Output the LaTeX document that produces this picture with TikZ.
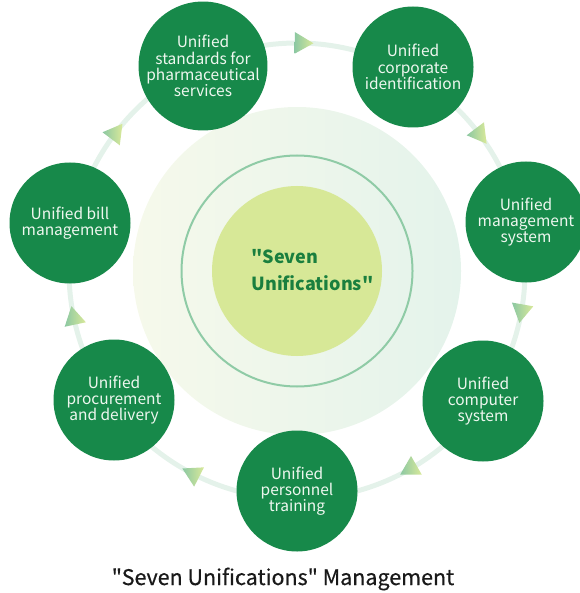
\documentclass[tikz,border=0pt]{standalone}
\usepackage{fontspec}
\setmainfont{Noto Sans CJK SC}[Ligatures=TeXOff]
\newfontfamily\captionface{Noto Sans CJK SC}[Ligatures=TeXOff, FakeBold=0.5]
\usetikzlibrary{shapes.geometric, calc}

\definecolor{unigreen}{HTML}{17894A}
\definecolor{unitext}{HTML}{EEF7EF}
\definecolor{trackcol}{HTML}{E4F2EA}
\definecolor{haloleft}{HTML}{F6F9EB}
\definecolor{haloright}{HTML}{E4F3EB}
\definecolor{ringcol}{HTML}{8FCBA6}
\definecolor{corecol}{HTML}{D7E897}
\definecolor{coretext}{HTML}{1A7F3E}
\definecolor{tipmint}{HTML}{8CC8A2}
\definecolor{tiplime}{HTML}{D9E99A}

\begin{document}
\begin{tikzpicture}
        [x=1pt, y=1pt,
            unit/.style={circle, fill=unigreen, minimum size=121pt, inner sep=0pt, align=center, text=unitext, font=\fontsize{15.5}{16.3}\selectfont},
            flowtip/.style={regular polygon, regular polygon sides=3, minimum size=25pt, inner sep=0pt, left color=tipmint, right color=tiplime, rotate=#1-180}
        ]
        \useasboundingbox (0,0) rectangle (579,-593);
        \coordinate (hub) at (297,-271);
        \draw[trackcol, line width=5pt] (hub) circle (228);
        \node (halo) [circle, minimum size=328pt, left color=haloleft, right color=haloright] at (hub) {};
        \node (ring) [circle, draw=ringcol, line width=2pt, minimum size=231pt] at (hub) {};
        \node (core) [circle, fill=corecol, minimum size=170pt] at (hub) {};
        \node (motto) [anchor=west, align=left, text=coretext, font=\bfseries\fontsize{18}{27}\selectfont] at (248,-270) {"Seven\\Unifications"};
        \node (standards) [unit] at (203,-66) {Unified\\standards for\\pharmaceutical\\services};
        \node (corporate) [unit] at (413,-67) {Unified\\corporate\\identification};
        \node (mgmtsys) [unit] at (526,-222) {Unified\\management\\system};
        \node (computer) [unit] at (483,-401) {Unified\\computer\\system};
        \node (personnel) [unit] at (297,-491) {Unified\\personnel\\training};
        \node (procure) [unit] at (114,-400) {Unified\\procurement\\and delivery};
        \node (bill) [unit] at (70,-223) {Unified bill\\management};
        % triangles sit on the track, turned clockwise
        \foreach \ang [count=\i] in {89,37,-10,-60,-117,-168,143}
            \node (tip\i) [flowtip=\ang] at ($(hub)+(\ang:228)$) {};
        \node (caption) [font=\captionface\fontsize{21.5}{26}\selectfont, text=black!90] at (283,-579) {"Seven Unifications" Management};
    \end{tikzpicture}
\end{document}
